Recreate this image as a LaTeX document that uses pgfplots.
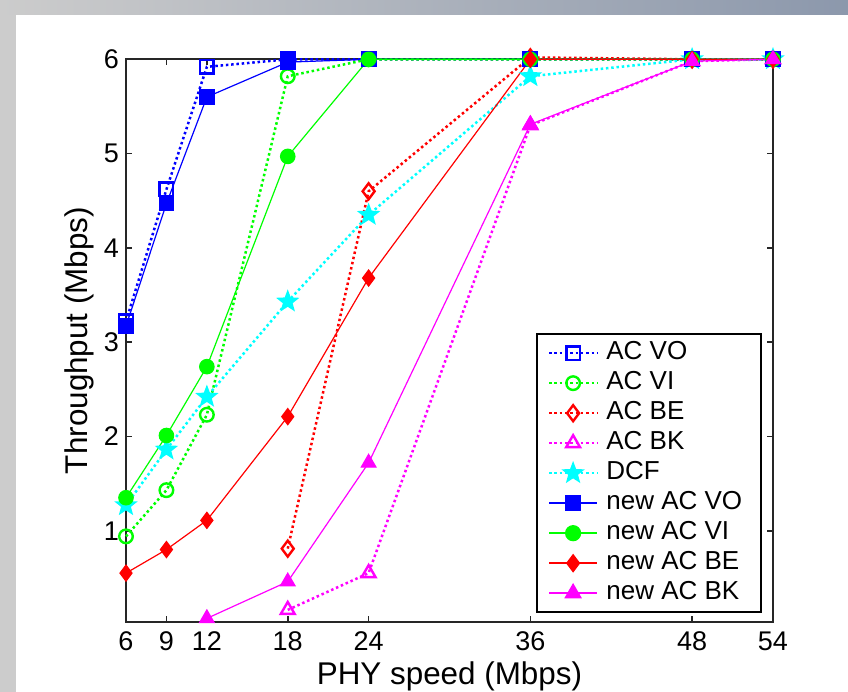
\documentclass[border=0pt]{standalone}
\usepackage{fontspec}
\setmainfont{Liberation Sans}
\usepackage{pgfplots}
\pgfplotsset{compat=1.18}
\usetikzlibrary{plotmarks}

\pgfdeclareplotmark{pentagram}{%
  \pgfpathmoveto{\pgfpointpolar{90}{\pgfplotmarksize}}%
  \pgfpathlineto{\pgfpointpolar{126}{0.42\pgfplotmarksize}}%
  \pgfpathlineto{\pgfpointpolar{162}{\pgfplotmarksize}}%
  \pgfpathlineto{\pgfpointpolar{198}{0.42\pgfplotmarksize}}%
  \pgfpathlineto{\pgfpointpolar{234}{\pgfplotmarksize}}%
  \pgfpathlineto{\pgfpointpolar{270}{0.42\pgfplotmarksize}}%
  \pgfpathlineto{\pgfpointpolar{306}{\pgfplotmarksize}}%
  \pgfpathlineto{\pgfpointpolar{342}{0.42\pgfplotmarksize}}%
  \pgfpathlineto{\pgfpointpolar{18}{\pgfplotmarksize}}%
  \pgfpathlineto{\pgfpointpolar{54}{0.42\pgfplotmarksize}}%
  \pgfpathclose
  \pgfusepathqfillstroke
}

\definecolor{mblue}{rgb}{0,0,1}
\definecolor{mgreen}{rgb}{0,1,0}
\definecolor{mred}{rgb}{1,0,0}
\definecolor{mmag}{rgb}{1,0,1}
\definecolor{mcyan}{rgb}{0,1,1}

\begin{document}
\begin{tikzpicture}
\path[use as bounding box] (-63pt,-35.15pt) rectangle (361pt,310.85pt);
\fill[white] (-63pt,-35.15pt) rectangle (361pt,310.85pt);
\fill[gray!40] (-63pt,-35.15pt) rectangle (-55pt,310.85pt);
\shade[left color=gray!40, right color={rgb,255:red,140;green,152;blue,172}] (-63pt,303.6pt) rectangle (361pt,310.85pt);
\begin{axis}[
  scale only axis,
  width=323.5pt, height=281.2pt,
  xmin=6, xmax=54, ymin=0.035, ymax=6,
  xtick={6,9,12,18,24,36,48,54},
  ytick={1,2,3,4,5,6},
  tick align=inside,
  major tick length=3pt,
  axis line style={black!85, line width=0.8pt},
  every tick/.style={black!85, line width=0.8pt},
  clip=false,
  /pgf/number format/assume math mode=true,
  tick label style={font=\fontsize{13.5}{15}\selectfont},
  xticklabel style={anchor=base, yshift=-14.6pt},
  xlabel={PHY speed (Mbps)},
  ylabel={Throughput (Mbps)},
  label style={font=\fontsize{15.7}{18}\selectfont},
  xlabel style={at={(axis description cs:0.5,0)}, anchor=base, yshift=-31.6pt},
  ylabel style={at={(axis description cs:0,0.5)}, anchor=center, yshift=23.5pt},
  legend cell align=left,
  legend style={
    at={(axis description cs:0.983,0.0155)}, anchor=south east,
    font=\fontsize{13}{14}\selectfont,
    fill=white,
    inner xsep=5.5pt, inner ysep=2pt,
    row sep=0pt,
    nodes={text height=9pt, text depth=2.4pt, inner ysep=1.8pt, inner xsep=4pt},
  },
  every axis legend/.append style={line width=0.8pt},
  legend image code/.code={%
    \draw[mark repeat=2,mark phase=2] plot coordinates {(0pt,0pt) (12pt,0pt) (24pt,0pt)};},
  dotstyle/.style={line width=1.25pt, dash pattern=on 1.25pt off 1.4pt},
  solstyle/.style={line width=0.6pt, solid, legend image post style={line width=0.9pt}},
]
% AC VO
\addplot[color=mblue, draw=mblue, dotstyle, mark=square, mark size=3.4pt, mark options={solid, line width=1.2pt}]
 coordinates {(6,3.22)(9,4.62)(12,5.92)(18,6.0)(24,6.0)(36,6.0)(48,6.0)(54,6.0)};
\addlegendentry{AC VO}
% AC VI
\addplot[color=mgreen, draw=mgreen, dotstyle, mark=o, mark size=3.4pt, mark options={solid, line width=1.2pt}]
 coordinates {(6,0.94)(9,1.43)(12,2.23)(18,5.82)(24,6.0)(36,6.0)(48,6.0)(54,6.0)};
\addlegendentry{AC VI}
% AC BE
\addplot[color=mred, draw=mred, dotstyle, mark=diamond, mark size=4pt, mark options={solid, line width=1.2pt}]
 coordinates {(18,0.81)(24,4.60)(36,6.02)(48,6.0)(54,6.0)};
\addlegendentry{AC BE}
% AC BK
\addplot[color=mmag, draw=mmag, dotstyle, mark=triangle, mark size=4pt, mark options={solid, line width=1.2pt}]
 coordinates {(18,0.16)(24,0.55)(36,5.30)(48,5.98)(54,6.0)};
\addlegendentry{AC BK}
% DCF
\addplot[color=mcyan, draw=mcyan, dotstyle, mark=pentagram, mark size=5pt, mark options={solid, line width=0.8pt, fill=mcyan}]
 coordinates {(6,1.27)(9,1.86)(12,2.42)(18,3.43)(24,4.35)(36,5.82)(48,6.0)(54,6.0)};
\addlegendentry{DCF}
% new AC VO
\addplot[color=mblue, draw=mblue, solstyle, mark=square*, mark size=3.6pt, mark options={solid, fill=mblue}]
 coordinates {(6,3.17)(9,4.47)(12,5.60)(18,5.97)(24,6.0)(36,6.0)(48,6.0)(54,6.0)};
\addlegendentry{new AC VO}
% new AC VI
\addplot[color=mgreen, draw=mgreen, solstyle, mark=*, mark size=3.6pt, mark options={solid, fill=mgreen}]
 coordinates {(6,1.35)(9,2.01)(12,2.74)(18,4.97)(24,6.0)(36,6.0)(48,6.0)(54,6.0)};
\addlegendentry{new AC VI}
% new AC BE
\addplot[color=mred, draw=mred, solstyle, mark=diamond*, mark size=4pt, mark options={solid, fill=mred}]
 coordinates {(6,0.55)(9,0.80)(12,1.11)(18,2.21)(24,3.68)(36,6.0)(48,6.0)(54,6.0)};
\addlegendentry{new AC BE}
% new AC BK
\addplot[color=mmag, draw=mmag, solstyle, mark=triangle*, mark size=4.2pt, mark options={solid, fill=mmag}]
 coordinates {(12,0.07)(18,0.46)(24,1.72)(36,5.31)(48,5.98)(54,6.0)};
\addlegendentry{new AC BK}
\end{axis}
\end{tikzpicture}
\end{document}
